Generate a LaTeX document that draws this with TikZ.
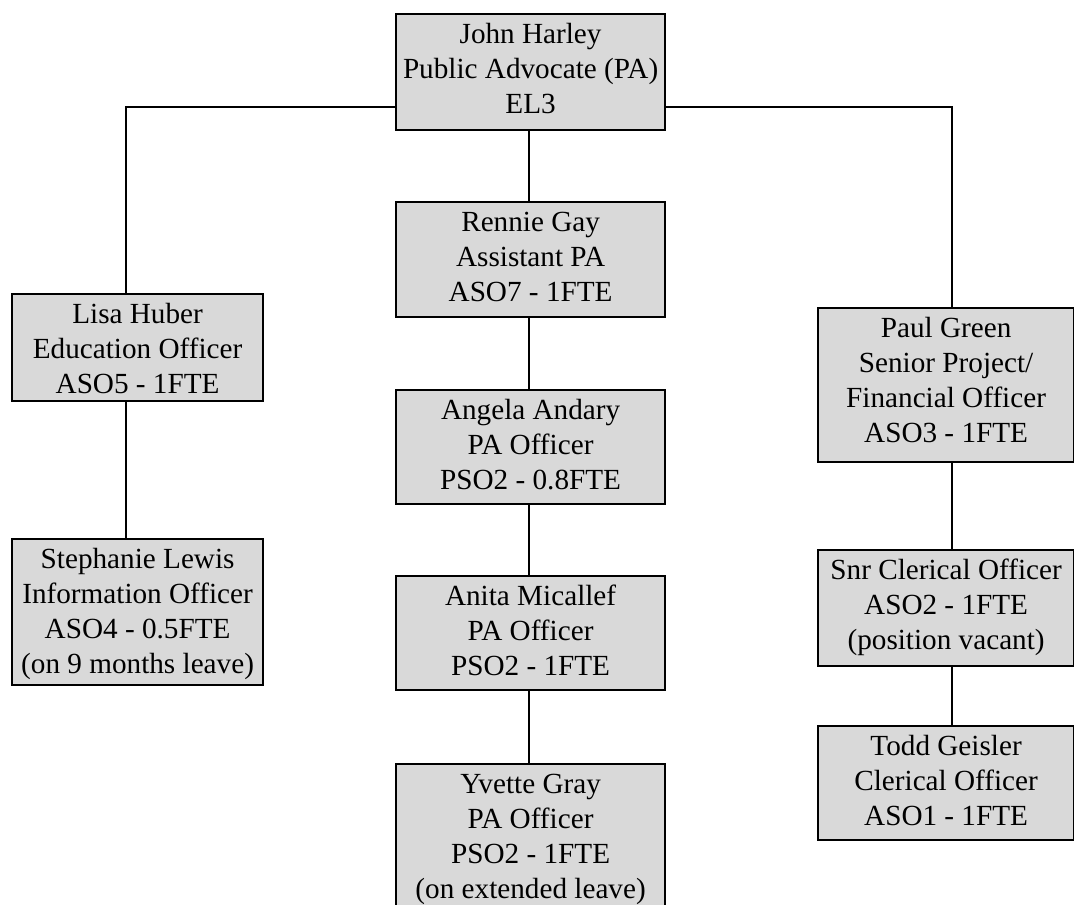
\documentclass[tikz,border=0pt]{standalone}
\usepackage{fontspec}
\setmainfont{Liberation Serif}
\newcommand\boxlines[1]{\begin{tabular}[t]{@{}c@{}}#1\end{tabular}}
\begin{document}
\begin{tikzpicture}[x=1pt,y=-1pt,
  box/.style={draw=black, line width=2.2pt, fill=boxgray, inner sep=0pt, anchor=north west},
  txt/.style={inner sep=0pt, anchor=base, font=\fontsize{29.2}{35}\selectfont},
  link/.style={draw=black, line width=2.2pt}]
\definecolor{boxgray}{HTML}{D9D9D9}
\useasboundingbox (0,0) rectangle (1074,905);
\clip (0,0) rectangle (1074,905);
% boxes
\node[box, minimum width=269pt, minimum height=116pt] (john) at (395,13) {};
\node[box, minimum width=269pt, minimum height=115pt] (rennie) at (395,201) {};
\node[box, minimum width=269pt, minimum height=114pt] (angela) at (395,389) {};
\node[box, minimum width=269pt, minimum height=114pt] (anita) at (395,575) {};
\node[box, minimum width=269pt, minimum height=170pt] (yvette) at (395,763) {};
\node[box, minimum width=251pt, minimum height=107pt] (lisa) at (11,293) {};
\node[box, minimum width=251pt, minimum height=146pt] (stephanie) at (11,538) {};
\node[box, minimum width=256pt, minimum height=154pt] (paul) at (817,307) {};
\node[box, minimum width=256pt, minimum height=116pt] (snr) at (817,549) {};
\node[box, minimum width=256pt, minimum height=114pt] (todd) at (817,725) {};
% texts
\node[txt] (johnT) at ([yshift=-30.5pt]john.north) {\boxlines{John Harley\\Public Advocate (PA)\\EL3}};
\node[txt] (rennieT) at ([yshift=-30.5pt]rennie.north) {\boxlines{Rennie Gay\\Assistant PA\\ASO7 - 1FTE}};
\node[txt] (angelaT) at ([yshift=-30.5pt]angela.north) {\boxlines{Angela Andary\\PA Officer\\PSO2 - 0.8FTE}};
\node[txt] (anitaT) at ([yshift=-30.5pt]anita.north) {\boxlines{Anita Micallef\\PA Officer\\PSO2 - 1FTE}};
\node[txt] (yvetteT) at ([yshift=-30.5pt]yvette.north) {\boxlines{Yvette Gray\\PA Officer\\PSO2 - 1FTE\\(on extended leave)}};
\node[txt] (lisaT) at ([yshift=-30.5pt]lisa.north) {\boxlines{Lisa Huber\\Education Officer\\ASO5 - 1FTE}};
\node[txt] (stephanieT) at ([yshift=-30.5pt]stephanie.north) {\boxlines{Stephanie Lewis\\Information Officer\\ASO4 - 0.5FTE\\(on 9 months leave)}};
\node[txt] (paulT) at ([yshift=-30.5pt]paul.north) {\boxlines{Paul Green\\Senior Project/\\Financial Officer\\ASO3 - 1FTE}};
\node[txt] (snrT) at ([yshift=-30.5pt]snr.north) {\boxlines{Snr Clerical Officer\\ASO2 - 1FTE\\(position vacant)}};
\node[txt] (toddT) at ([yshift=-30.5pt]todd.north) {\boxlines{Todd Geisler\\Clerical Officer\\ASO1 - 1FTE}};
% connectors
\coordinate (lj) at (126,107);
\coordinate (rj) at (952,107);
\coordinate (cj) at (529,0);
\path[link] (john.west |- lj) -| (lisa.north -| lj);
\path[link] (john.east |- rj) -| (paul.north -| rj);
\path[link] (john.south -| cj) -- (rennie.north -| cj);
\path[link] (rennie.south -| cj) -- (angela.north -| cj);
\path[link] (angela.south -| cj) -- (anita.north -| cj);
\path[link] (anita.south -| cj) -- (yvette.north -| cj);
\path[link] (lisa.south -| lj) -- (stephanie.north -| lj);
\path[link] (paul.south -| rj) -- (snr.north -| rj);
\path[link] (snr.south -| rj) -- (todd.north -| rj);
\end{tikzpicture}
\end{document}
